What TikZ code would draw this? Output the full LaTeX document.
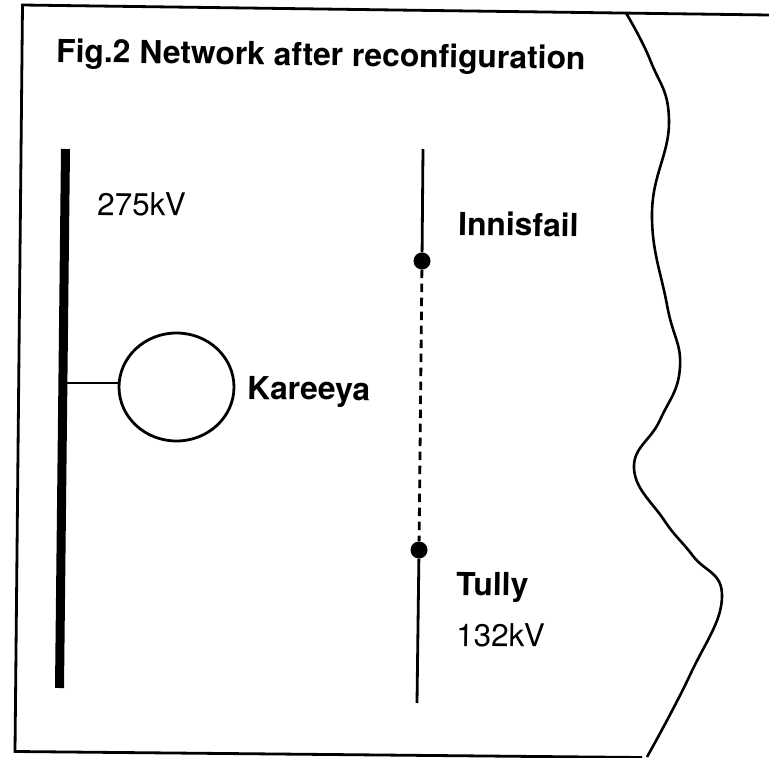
\documentclass[tikz,border=0pt]{standalone}
\usepackage{fontspec}
\setmainfont{TeX Gyre Heros}
\usepackage{xcolor}
\usetikzlibrary{positioning,calc,shapes.geometric}
\begin{document}
\begin{tikzpicture}[
  x=1pt, y=-1pt,
  font=\fontsize{31.5}{36}\selectfont,
  lbl/.style={inner sep=0pt, anchor=base west, rotate=-0.8},
  station/.style={lbl, font=\fontsize{31.8}{36}\selectfont\bfseries},
  bus/.style={line width=2.8pt, line cap=butt},
  junction/.style={circle, fill=black, inner sep=0pt, minimum size=17pt},
]
  \useasboundingbox (0,0) rectangle (769,758);
  \fill[white] (0,0) rectangle (769,758);
  % ---------------- frame and coast line ----------------
  \coordinate (topleft) at (22.5,5);
  \coordinate (topright) at (769,15);
  \coordinate (botleft) at (15,751.5);
  \coordinate (botright) at (642,757.5);
  \draw[line width=2.8pt, line join=miter] (topright) -- (topleft) -- (botleft) -- (botright);
  \draw[line width=2.6pt] plot[smooth, tension=0.75] coordinates {
    (626,13) (651,62) (669,122) (652,213) (667,305) (680,367)
    (660,420) (634,468) (664,520) (693,556) (722,597)
    (690,675) (647,757)};
  \node[station] (title) at (56,62) {Fig.2 Network after reconfiguration};
  % ---------------- 275kV side ----------------
  \coordinate (bustop) at (65.5,149);
  \coordinate (busbot) at (59.5,688);
  \draw[line width=9pt] (bustop) -- (busbot);
  \node[lbl] (hv) at (97,215) {275kV};
  \node[draw, ellipse, line width=2.8pt, minimum width=115pt, minimum height=108pt, inner sep=0pt] (gen) at (176.5,387) {};
  \coordinate (tap) at (63,383);
  \draw[bus] (tap) -- (gen.west |- tap);
  \node[station] (kareeya) at (247,399) {Kareeya};
  % ---------------- 132kV side ----------------
  \node[junction] (inn) at (422,261) {};
  \node[junction] (tul) at (419,550) {};
  \coordinate (inntop) at (423,149);
  \coordinate (tulbot) at (417,703);
  \draw[bus] (inntop) -- (inn);
  \draw[bus] (tul) -- (tulbot);
  \draw[line width=2.8pt, dash pattern=on 8.5pt off 5.5pt] (inn) -- (tul);
  \node[station] (innisfail) at (458,235) {Innisfail};
  \node[station] (tully) at (456,595) {Tully};
  \node[lbl] (lv) at (456,646) {132kV};
\end{tikzpicture}
\end{document}
